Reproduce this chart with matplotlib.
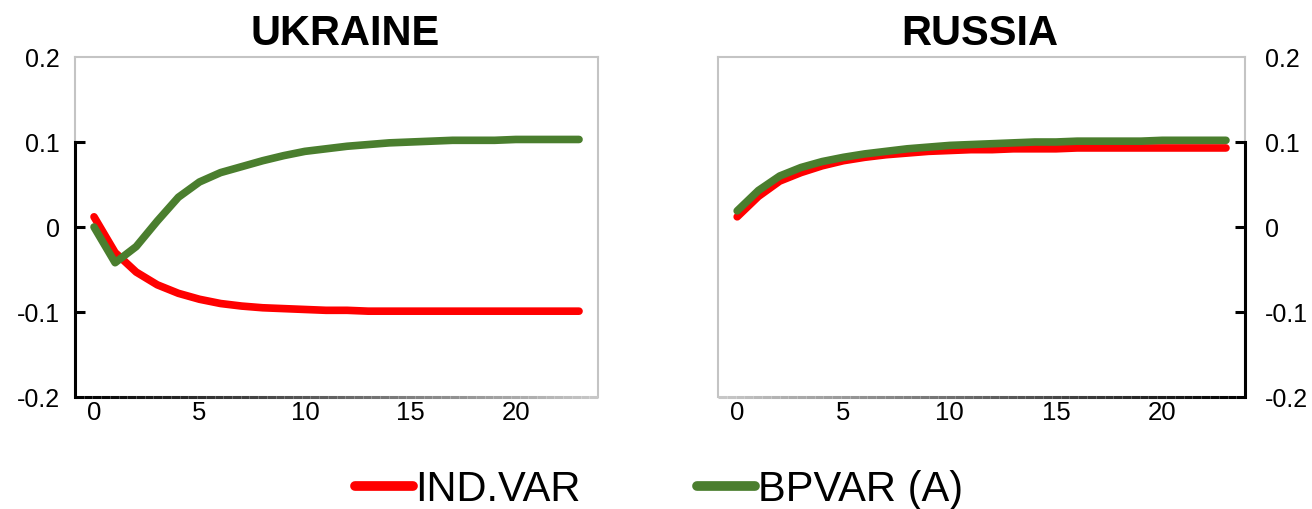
import numpy as np
import matplotlib
matplotlib.use("Agg")
import matplotlib.pyplot as plt
from matplotlib.collections import LineCollection
from matplotlib.lines import Line2D

plt.rcParams['font.family'] = ['Liberation Sans', 'DejaVu Sans']

horizon = list(range(24))

ukr_ind = [0.012, -0.030, -0.053, -0.068, -0.078, -0.085, -0.090, -0.093, -0.095,
           -0.096, -0.097, -0.098, -0.098, -0.099, -0.099, -0.099, -0.099, -0.099,
           -0.099, -0.099, -0.099, -0.099, -0.099, -0.099]
ukr_bp = [0.000, -0.042, -0.023, 0.007, 0.035, 0.053, 0.064, 0.071, 0.078, 0.084,
          0.089, 0.092, 0.095, 0.097, 0.099, 0.100, 0.101, 0.102, 0.102, 0.102,
          0.103, 0.103, 0.103, 0.103]

rus_ind = [0.012, 0.036, 0.054, 0.064, 0.072, 0.078, 0.082, 0.085, 0.087, 0.089,
           0.090, 0.091, 0.091, 0.092, 0.092, 0.092, 0.093, 0.093, 0.093, 0.093,
           0.093, 0.093, 0.093, 0.093]
rus_bp = [0.019, 0.043, 0.060, 0.070, 0.077, 0.082, 0.086, 0.089, 0.092, 0.094,
          0.096, 0.097, 0.098, 0.099, 0.100, 0.100, 0.101, 0.101, 0.101, 0.101,
          0.102, 0.102, 0.102, 0.102]

titles = ["UKRAINE", "RUSSIA"]
series_names = ["IND.VAR", "BPVAR (A)"]
yticks = [-0.2, -0.1, 0, 0.1, 0.2]
ytick_labels = ["-0.2", "-0.1", "0", "0.1", "0.2"]
xticks = [0, 5, 10, 15, 20]

RED = "#ff0000"
GREEN = "#4a7e2e"
GRAY = "#c4c4c4"

fig = plt.figure(figsize=(13.12, 5.09), dpi=100)
ax1 = fig.add_axes([0.0572, 0.220, 0.3986, 0.668])
ax2 = fig.add_axes([0.5473, 0.220, 0.4017, 0.668])


def gradient_bottom(ax, reverse=False):
    n = 60
    xs = np.linspace(0, 1, n + 1)
    segs = [[(xs[i], 0), (xs[i + 1], 0)] for i in range(n)]
    t = np.linspace(0, 1, n)
    if reverse:
        t = t[::-1]
    g = 0.78 * t
    cols = [(v, v, v, 1) for v in g]
    lc = LineCollection(segs, colors=cols, linewidths=2.2,
                        transform=ax.transAxes, clip_on=False, zorder=5)
    ax.add_collection(lc)


def setup(ax, title, ind, bp, side, title_x):
    ax.plot(horizon, ind, color=RED, lw=5.5, solid_capstyle='round', zorder=3)
    ax.plot(horizon, bp, color=GREEN, lw=5.5, solid_capstyle='round', zorder=4)
    ax.set_xlim(-0.9, 23.9)
    ax.set_ylim(-0.2, 0.2)
    for s in ax.spines.values():
        s.set_color(GRAY)
        s.set_linewidth(1.5)
    ax.spines['bottom'].set_visible(False)
    gradient_bottom(ax, reverse=(side == 'right'))
    xs = 0 if side == 'left' else 1
    ax.plot([xs, xs], [0, 0.75], color='black', lw=2.2,
            transform=ax.transAxes, clip_on=False, zorder=5)
    ax.set_yticks(yticks)
    ax.set_yticklabels(ytick_labels)
    ax.set_xticks(xticks)
    ax.tick_params(axis='x', length=0, pad=3, labelsize=18.5)
    if side == 'left':
        ax.tick_params(axis='y', direction='in', length=7, width=2.2,
                       color='black', pad=11, labelsize=18)
    else:
        ax.yaxis.tick_right()
        ax.tick_params(axis='y', direction='in', length=7, width=2.2,
                       color='black', pad=14, labelsize=18)
    ticks = ax.yaxis.get_major_ticks()
    for i in (0, len(ticks) - 1):
        ticks[i].tick1line.set_visible(False)
        ticks[i].tick2line.set_visible(False)
    ax.set_title(title, fontsize=30, fontweight='bold', pad=9, x=title_x)


setup(ax1, titles[0], ukr_ind, ukr_bp, 'left', 0.517)
setup(ax2, titles[1], rus_ind, rus_bp, 'right', 0.497)

handles = [Line2D([0], [0], color=RED, lw=7, solid_capstyle='round'),
           Line2D([0], [0], color=GREEN, lw=7, solid_capstyle='round')]
fig.legend(handles, series_names, loc='lower center', ncol=2, frameon=False,
           fontsize=30, handlelength=1.4, handletextpad=0.05,
           columnspacing=2.8, bbox_to_anchor=(0.502, -0.075))

fig.savefig("out.png", dpi=100)
